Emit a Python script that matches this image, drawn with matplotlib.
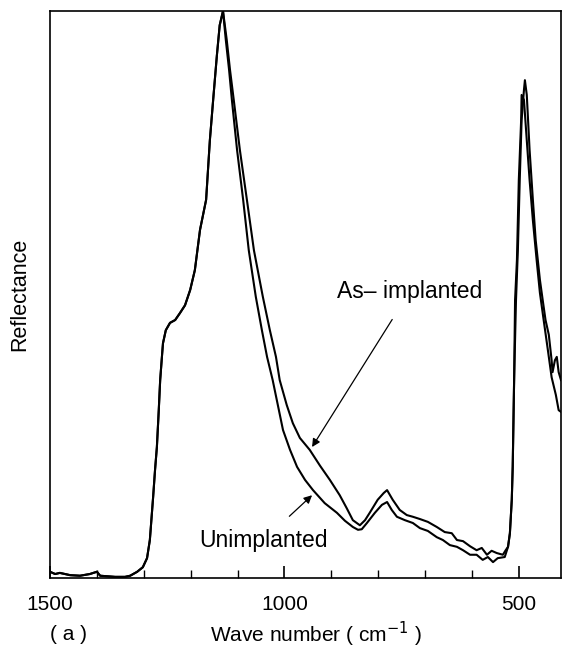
import numpy as np
import matplotlib
matplotlib.use('Agg')
import matplotlib.pyplot as plt
from matplotlib.ticker import MultipleLocator

plt.rcParams['font.family'] = ['Liberation Sans', 'DejaVu Sans']

# Common rising part (both spectra overlap up to the main peak)
wn_common = [1500, 1489, 1479, 1457, 1436, 1415, 1400, 1393, 1361, 1340, 1329,
             1314, 1302, 1293, 1287, 1280, 1276, 1272, 1268, 1265, 1261, 1259,
             1253, 1244, 1233, 1223, 1212, 1201, 1191, 1180, 1167, 1159, 1152,
             1144, 1138]
r_common = [0.011, 0.007, 0.009, 0.005, 0.004, 0.007, 0.011, 0.004, 0.002, 0.002, 0.004,
            0.011, 0.019, 0.035, 0.067, 0.143, 0.190, 0.231, 0.296, 0.349, 0.393, 0.414,
            0.437, 0.450, 0.455, 0.467, 0.481, 0.508, 0.543, 0.614, 0.667, 0.772, 0.843,
            0.922, 0.975]

# Unimplanted
wn_unimp = [1131, 1125, 1118, 1112, 1101, 1088, 1076, 1061, 1048, 1037, 1025,
            1003, 988, 973, 956, 939, 914, 888, 871, 854, 843, 835, 824, 807,
            792, 781, 771, 760, 743, 726, 711, 694, 675, 662, 647, 632, 619,
            604, 590, 577, 566, 555, 545, 530, 523, 519, 515, 513, 510, 508,
            504, 500, 495, 494, 489, 483, 477, 470, 462, 455, 447, 438, 430,
            421, 415, 410]
r_unimp = [1.0, 0.949, 0.896, 0.843, 0.755, 0.667, 0.578, 0.496, 0.437, 0.390, 0.349,
           0.261, 0.226, 0.196, 0.173, 0.155, 0.132, 0.115, 0.101, 0.090, 0.085, 0.086,
           0.097, 0.115, 0.129, 0.134, 0.120, 0.108, 0.102, 0.097, 0.088, 0.083, 0.072,
           0.067, 0.058, 0.055, 0.049, 0.041, 0.041, 0.032, 0.037, 0.028, 0.035, 0.037,
           0.055, 0.079, 0.138, 0.196, 0.349, 0.490, 0.561, 0.702, 0.808, 0.852, 0.843,
           0.772, 0.702, 0.631, 0.561, 0.503, 0.455, 0.402, 0.354, 0.323, 0.296, 0.293]

# As-implanted
wn_asimp = [1131, 1123, 1116, 1108, 1095, 1080, 1065, 1046, 1031, 1018, 1010,
            995, 982, 967, 946, 924, 903, 882, 867, 854, 839, 828, 818, 801,
            788, 781, 769, 754, 739, 726, 711, 694, 675, 658, 643, 632, 619,
            604, 590, 579, 568, 558, 547, 534, 528, 523, 519, 515, 513, 510,
            506, 502, 498, 494, 489, 487, 483, 477, 470, 464, 455, 449, 443,
            436, 430, 428, 423, 419, 415, 410]
r_asimp = [1.0, 0.949, 0.896, 0.843, 0.755, 0.667, 0.578, 0.496, 0.437, 0.390, 0.349,
           0.305, 0.273, 0.247, 0.226, 0.198, 0.173, 0.146, 0.123, 0.102, 0.093, 0.102,
           0.115, 0.138, 0.150, 0.155, 0.138, 0.120, 0.111, 0.108, 0.104, 0.099, 0.090,
           0.081, 0.079, 0.067, 0.065, 0.056, 0.049, 0.053, 0.041, 0.048, 0.044, 0.041,
           0.049, 0.055, 0.079, 0.138, 0.196, 0.349, 0.490, 0.578, 0.702, 0.808, 0.861,
           0.878, 0.852, 0.755, 0.667, 0.596, 0.526, 0.490, 0.455, 0.429, 0.384, 0.363,
           0.384, 0.390, 0.363, 0.349]

x_ticks = [1500, 1000, 500]

fig = plt.figure(figsize=(5.62, 6.5), dpi=100)
ax = fig.add_axes([50 / 562, 72 / 650, 511 / 562, 567 / 650])

ax.plot(wn_common + wn_unimp, r_common + r_unimp, color='black', lw=1.5)
ax.plot(wn_common + wn_asimp, r_common + r_asimp, color='black', lw=1.5)

ax.set_xlim(1500, 410)
ax.set_ylim(0, 1.0)
ax.set_xticks(x_ticks)
ax.xaxis.set_minor_locator(MultipleLocator(100))
ax.set_yticks([])
ax.tick_params(axis='x', which='major', direction='in', length=9, width=1.2,
               labelsize=15, pad=12)
ax.tick_params(axis='x', which='minor', direction='in', length=6, width=1.0)
for s in ax.spines.values():
    s.set_linewidth(1.2)

ax.set_ylabel('Reflectance', fontsize=15.5, labelpad=14)
fig.text(316 / 562, 1 - 634 / 650, 'Wave number ( cm$^{-1}$ )', fontsize=15,
         ha='center', va='center')
fig.text(68 / 562, 1 - 634 / 650, '( a )', fontsize=15, ha='center', va='center')

ax.annotate('As\u2013 implanted', xy=(941, 0.231), xytext=(732, 0.506),
            fontsize=16.5, ha='center', va='center',
            arrowprops=dict(arrowstyle='-|>', color='black', lw=0.9,
                            mutation_scale=12, shrinkA=12, shrinkB=0))
ax.annotate('Unimplanted', xy=(941, 0.146), xytext=(1044, 0.067),
            fontsize=16.5, ha='center', va='center',
            arrowprops=dict(arrowstyle='-|>', color='black', lw=0.9,
                            mutation_scale=12, shrinkA=10, shrinkB=0))

fig.savefig('out.png', dpi=100)
